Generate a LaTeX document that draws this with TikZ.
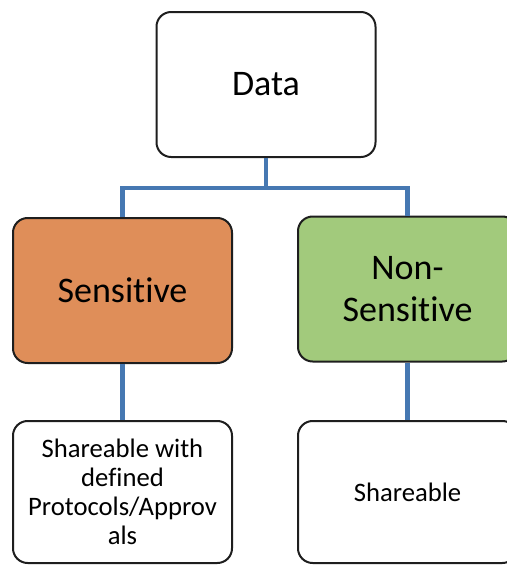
\documentclass[tikz,border=0pt]{standalone}
\usepackage{fontspec}
\setmainfont{Carlito}[Ligatures=NoCommon]
\usepackage{tikz}

\definecolor{sensorange}{RGB}{223,142,89}
\definecolor{nongreen}{RGB}{162,202,124}
\definecolor{linkblue}{RGB}{70,120,178}
\definecolor{boxedge}{RGB}{30,30,30}

\tikzset{
  catbox/.style={draw=boxedge, line width=1.5, rounded corners=11, align=center,
    minimum width=164.25pt, minimum height=108.75pt, inner sep=0pt},
  bigtext/.style={font=\fontsize{27}{31.5}\selectfont},
  smalltext/.style={font=\fontsize{20}{21.75}\selectfont},
  link/.style={draw=linkblue, line width=3.2}
}

\begin{document}
\begin{tikzpicture}[x=0.75pt,y=0.75pt,yscale=-1,xscale=1]
\useasboundingbox (0,0) rectangle (507,565);
\fill [white] (0,0) rectangle (507,565);

%Rounded Rect [id:data]
\node [catbox, bigtext, fill=white] (data) at (266,84.5) {Data};
%Rounded Rect [id:sens]
\node [catbox, bigtext, fill=sensorange] (sens) at (122.5,290.5) {Sensitive};
%Rounded Rect [id:nons]
\node [catbox, bigtext, fill=nongreen] (nons) at (407.5,289) {Non-\\Sensitive};
%Rounded Rect [id:share1]
\node [catbox, smalltext, fill=white, minimum height=106.5pt] (share1) at (122.5,492) {Shareable with\\defined\\Protocols/Approv\\als};
%Rounded Rect [id:share2]
\node [catbox, smalltext, fill=white, minimum height=106.5pt] (share2) at (407.5,492) {Shareable};

%Straight Lines [id:split]
\coordinate (split) at (266,188);
\draw [link] (data) -- (split) -| (sens);
\draw [link] (split) -| (nons);
%Straight Lines [id:down]
\draw [link] (sens) -- (share1);
\draw [link] (nons) -- (share2);
\end{tikzpicture}
\end{document}
